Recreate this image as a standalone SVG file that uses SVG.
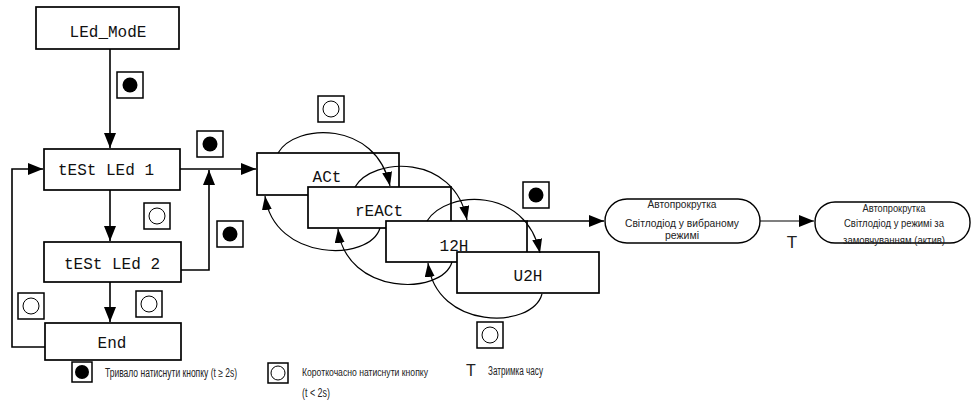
<svg xmlns="http://www.w3.org/2000/svg" width="977" height="403" viewBox="0 0 977 403">
<style>
.box{fill:#fff;stroke:#000;stroke-width:1.7}
.lbl{font-family:"Liberation Mono","DejaVu Sans Mono",monospace;font-size:16px;fill:#111;text-anchor:middle}
.ln{fill:none;stroke:#000;stroke-width:1.6}
.cv{fill:none;stroke:#000;stroke-width:1.2}
.btn{fill:#fff;stroke:#000;stroke-width:1.5}
.oval{fill:#fff;stroke:#000;stroke-width:1.4}
.sm{font-family:"Liberation Sans",Arial,sans-serif;font-size:12px;fill:#222}
.smc{font-family:"Liberation Sans",Arial,sans-serif;font-size:11.5px;fill:#222;text-anchor:middle}
.tt{font-family:"Liberation Sans",Arial,sans-serif;fill:#222}
</style>
<defs>
<marker id="arr" markerUnits="userSpaceOnUse" markerWidth="15" markerHeight="12" refX="15" refY="6" orient="auto"><path d="M0,0 L15,6 L0,12 z" fill="#000"/></marker>
<marker id="arrS" markerUnits="userSpaceOnUse" markerWidth="14" markerHeight="10" refX="14" refY="5" orient="auto"><path d="M0,0 L14,5 L0,10 z" fill="#000"/></marker>
<g id="btnOn"><rect class="btn" x="0" y="0" width="26" height="26"/><circle cx="13" cy="13" r="7.5" fill="#000"/></g>
<g id="btnOff"><rect class="btn" x="0" y="0" width="26" height="26"/><circle cx="13" cy="13" r="8" fill="none" stroke="#000" stroke-width="1"/></g>
</defs>

<g id="connectors">
<path class="ln" d="M110,49 V148" marker-end="url(#arr)"/>
<path class="ln" d="M110,190 V241" marker-end="url(#arr)"/>
<path class="ln" d="M110,282 V322" marker-end="url(#arr)"/>
<path class="ln" d="M180,169 H256" marker-end="url(#arr)"/>
<path class="ln" d="M181,270 H209 V170" marker-end="url(#arr)"/>
<path class="ln" d="M45,347 H12 V169 H43" marker-end="url(#arr)"/>
<path class="ln" d="M527,221 H604" marker-end="url(#arr)"/>
<path class="cv" d="M760,221 H814" marker-end="url(#arr)"/>
</g>

<g id="n-ledmode"><rect class="box" x="36" y="7" width="143" height="42"/><text class="lbl" x="108" y="37">LEd_ModE</text></g>
<g id="n-test1"><rect class="box" x="44" y="149" width="136" height="41"/><text class="lbl" x="106" y="175">tESt LEd 1</text></g>
<g id="n-test2"><rect class="box" x="44" y="242" width="137" height="40"/><text class="lbl" x="112" y="269">tESt LEd 2</text></g>
<g id="n-end"><rect class="box" x="45" y="323" width="136" height="37"/><text class="lbl" x="112" y="348">End</text></g>

<g id="n-act"><rect class="box" x="257" y="153" width="142" height="42"/><text class="lbl" x="327" y="182">ACt</text></g>
<g id="n-react"><rect class="box" x="308" y="187" width="143" height="41"/><text class="lbl" x="379" y="216">rEACt</text></g>
<g id="n-12h"><rect class="box" x="386" y="221" width="141" height="41"/><text class="lbl" x="454" y="251">12H</text></g>
<g id="n-u2h"><rect class="box" x="457" y="252" width="142" height="41"/><text class="lbl" x="528" y="281">U2H</text></g>

<g id="curves">
<path class="cv" d="M278,153 C295,123 376,120 390,186" marker-end="url(#arrS)"/>
<path class="cv" d="M355,187 C372,157 454,153 467,220" marker-end="url(#arrS)"/>
<path class="cv" d="M427,221 C446,190 526,186 540,253" marker-end="url(#arrS)"/>
<path class="cv" d="M380,228 C370,262 274,262 265,196" marker-end="url(#arrS)"/>
<path class="cv" d="M452,262 C442,296 346,296 338,229" marker-end="url(#arrS)"/>
<path class="cv" d="M542,294 C532,330 436,330 428,263" marker-end="url(#arrS)"/>
</g>

<g id="buttons">
<use href="#btnOn" x="117" y="72"/>
<use href="#btnOn" x="197" y="131"/>
<use href="#btnOff" x="144" y="203"/>
<use href="#btnOn" x="217" y="221"/>
<use href="#btnOff" x="136" y="291"/>
<use href="#btnOff" x="18" y="293"/>
<use href="#btnOff" x="318" y="96"/>
<use href="#btnOn" x="523" y="182"/>
<use href="#btnOff" x="477" y="322"/>
</g>

<g id="n-auto1"><rect class="oval" x="605" y="199" width="155" height="44" rx="22"/>
<text class="smc" x="682" y="208" textLength="69" lengthAdjust="spacingAndGlyphs">Автопрокрутка</text>
<text class="smc" x="682" y="227" textLength="114" lengthAdjust="spacingAndGlyphs">Світлодіод у вибраному</text>
<text class="smc" x="682" y="239" textLength="34" lengthAdjust="spacingAndGlyphs">режимі</text></g>

<text class="tt" x="792" y="248" font-size="17" text-anchor="middle">T</text>

<g id="n-auto2"><rect class="oval" x="815" y="202" width="155" height="41" rx="20"/>
<text class="smc" x="894" y="212" textLength="63" lengthAdjust="spacingAndGlyphs">Автопрокрутка</text>
<text class="smc" x="894" y="227" textLength="100" lengthAdjust="spacingAndGlyphs">Світлодіод у режимі за</text>
<text class="smc" x="894" y="244" textLength="102" lengthAdjust="spacingAndGlyphs">замовчуванням (актив)</text></g>

<g id="legend">
<rect class="btn" x="72" y="362" width="20" height="20"/><circle cx="82" cy="372" r="7" fill="#000"/>
<text class="sm" x="105" y="377" textLength="132" lengthAdjust="spacingAndGlyphs">Тривало натиснути кнопку (t ≥ 2s)</text>
<rect class="btn" x="268" y="363" width="20" height="20"/><circle cx="278" cy="373" r="7" fill="none" stroke="#000" stroke-width="1"/>
<text class="sm" x="302" y="376" style="font-size:10px" textLength="126" lengthAdjust="spacingAndGlyphs">Короткочасно натиснути кнопку</text>
<text class="sm" x="302" y="397" textLength="28" lengthAdjust="spacingAndGlyphs">(t &lt; 2s)</text>
<text class="tt" x="471" y="376" font-size="16" text-anchor="middle">T</text>
<text class="sm" x="488" y="375" textLength="55" lengthAdjust="spacingAndGlyphs">Затримка часу</text>
</g>
</svg>
